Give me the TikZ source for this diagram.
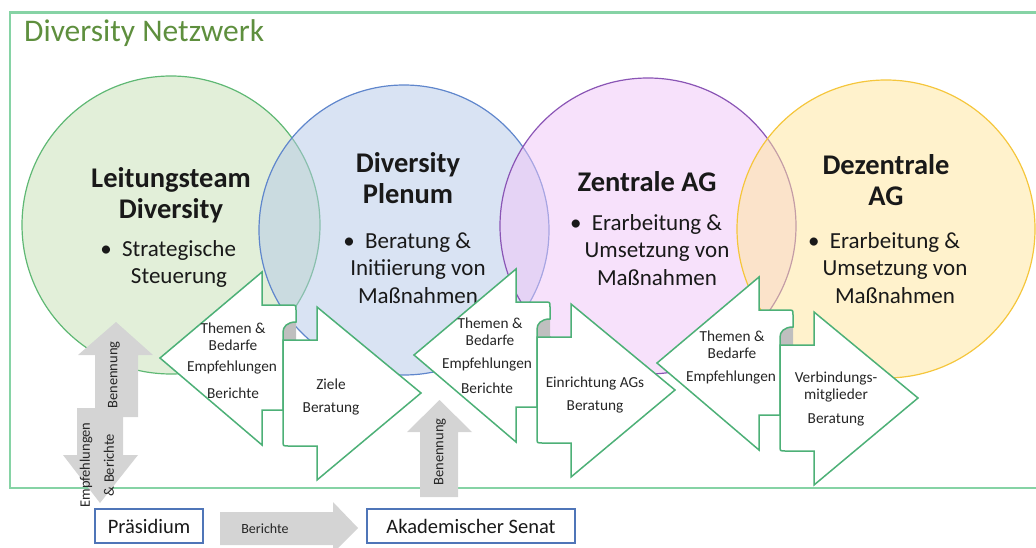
\documentclass[tikz,border=0pt]{standalone}
\usepackage{fontspec}
\setmainfont{Carlito}
\definecolor{frameg}{HTML}{86D3A5}
\definecolor{netz}{HTML}{5E8F3E}
\definecolor{arrg}{HTML}{4DB077}
\definecolor{cgreen}{HTML}{C5E0B4}
\definecolor{cgreenl}{HTML}{5FB874}
\definecolor{cblue}{HTML}{B4C7E7}
\definecolor{cbluel}{HTML}{5F86CC}
\definecolor{cpink}{HTML}{F0C4F8}
\definecolor{cpinkl}{HTML}{8A55B5}
\definecolor{cyel}{HTML}{FFE699}
\definecolor{cyell}{HTML}{F5C63C}
\definecolor{graya}{HTML}{D4D4D4}
\definecolor{grayn}{HTML}{BFBFBF}
\definecolor{boxb}{HTML}{4F75B8}
\newcommand\fsz[2]{\fontsize{#1}{#2}\selectfont}
\newcommand\hb{\makebox[0pt][r]{\textbullet\hspace{0.45em}}}
\newcommand\ArrowPair[2]{%
 \begin{scope}[shift={(#1,#2)}]
  \fill[grayn] (13,-36) .. controls (4,-36) and (0,-31) .. (0,-26) -- (0,-18) -- (13,-18) -- cycle;
  \draw[arrowline] (-123,0) -- (-21,-86) -- (-21,-53) -- (8,-53) .. controls (13,-53) .. (13,-48) -- (13,-36) .. controls (4,-36) and (0,-31) .. (0,-26) -- (0,52) -- (-21,52) -- (-21,87) -- cycle;
  \draw[arrowline] (0,-18) -- (34,-18) -- (34,-51) -- (138,35) -- (34,122) -- (34,88) -- (5,88) .. controls (0,88) .. (0,83) -- cycle;
 \end{scope}}
\tikzset{
  circ/.style={line width=1.2pt, fill opacity=0.5, draw opacity=1},
  ctitle/.style={font=\bfseries\fsz{28.5}{30.5}, align=center, text=black!90, inner sep=0pt},
  cbody/.style={font=\fsz{23}{27.5}, align=center, text=black!90, inner sep=0pt},
  arrowline/.style={fill=white, draw=arrg, line width=1.5pt, line join=miter},
  atext/.style={font=\fsz{15.3}{17}, align=center, text=black!85, inner sep=0pt},
  gtext/.style={font=\fsz{14.5}{24}, align=center, text=black!85, inner sep=0pt, rotate=90},
  bbox/.style={draw=boxb, line width=1.1pt, fill=white, font=\fsz{20.5}{22}, text=black!90, inner sep=0pt}
}
\begin{document}
\begin{tikzpicture}[x=1pt,y=-1pt]
\useasboundingbox (0,0) rectangle (1036,548);
% frame
\draw[frameg, line width=2.5pt] (1036,12.5) -- (10,12.5) -- (10,488) -- (1036,488);
\node[anchor=west, font=\fsz{31.5}{34}, text=netz, inner sep=0pt] (netzwerk) at (24,33) {Diversity Netzwerk};
% circles
\draw[circ, fill=cgreen, draw=cgreenl] (171,225) circle[radius=149pt];
\draw[circ, fill=cblue, draw=cbluel] (404,230) circle[radius=145pt];
\draw[circ, fill=cpink, draw=cpinkl] (648,226) circle[radius=148pt];
\draw[circ, fill=cyel, draw=cyell] (886,229) circle[radius=149pt];
% circle texts
\node[ctitle] (lt) at (171,195) {Leitungsteam\\Diversity};
\node[cbody] (ltb) at (179,264) {\hb Strategische\\Steuerung};
\node[ctitle] (pt) at (408,178) {Diversity\\Plenum};
\node[cbody] (ptb) at (418,268) {\hb Beratung \&\\Initiierung von\\Maßnahmen};
\node[ctitle] (zt) at (647,182) {Zentrale AG};
\node[cbody] (ztb) at (657,250) {\hb Erarbeitung \&\\Umsetzung von\\Maßnahmen};
\node[ctitle] (dt) at (886,180) {Dezentrale\\AG};
\node[cbody] (dtb) at (895,268) {\hb Erarbeitung \&\\Umsetzung von\\Maßnahmen};
% arrow pairs
\ArrowPair{283}{358}
\ArrowPair{537}{355}
\ArrowPair{780}{363}
\node[atext] (a1l) at (233,336.5) {Themen \&\\Bedarfe};
\node[atext] (a1m) at (232,368) {Empfehlungen};
\node[atext] (a1n) at (233,393) {Berichte};
\node[atext] (a1r) at (331,397) {Ziele\\[6pt]Beratung};
\node[atext] (a2l) at (490,331.5) {Themen \&\\Bedarfe};
\node[atext] (a2m) at (487,365) {Empfehlungen};
\node[atext] (a2n) at (487,388) {Berichte};
\node[atext] (a2r) at (595,395) {Einrichtung AGs\\[6pt]Beratung};
\node[atext] (a3l) at (732,345) {Themen \&\\Bedarfe};
\node[atext] (a3m) at (731,378) {Empfehlungen};
\node[atext] (a3r) at (836,387) {Verbindungs-\\mitglieder};
\node[atext] (a3s) at (836,420) {Beratung};
% gray arrows
\fill[graya] (77,408) -- (123,408) -- (123,455) -- (138,455) -- (100,503) -- (63,455) -- (77,455) -- cycle;
\fill[graya] (95,417) -- (95,355) -- (78,355) -- (116,322) -- (153,355) -- (138,355) -- (138,417) -- cycle;
\fill[graya] (420,497) -- (420,432) -- (407,432) -- (439.5,400) -- (472,432) -- (458,432) -- (458,497) -- cycle;
\node[gtext] (ben1) at (114,375) {Benennung};
\node[gtext] (empf) at (97,465) {Empfehlungen\\\& Berichte};
\node[gtext] (ben2) at (440,452) {Benennung};
% bottom
\node[bbox, minimum width=108pt, minimum height=34pt] (pras) at (149,526) {Präsidium};
\node[bbox, minimum width=208pt, minimum height=34pt] (senat) at (471,526) {Akademischer Senat};
\fill[graya] (220,512) -- (333,512) -- (333,502) -- (358,528) -- (338,548) -- (333,548) -- (333,545) -- (220,545) -- cycle;
\node[atext, font=\fsz{14}{16}] (ber) at (265,529) {Berichte};
\end{tikzpicture}
\end{document}
